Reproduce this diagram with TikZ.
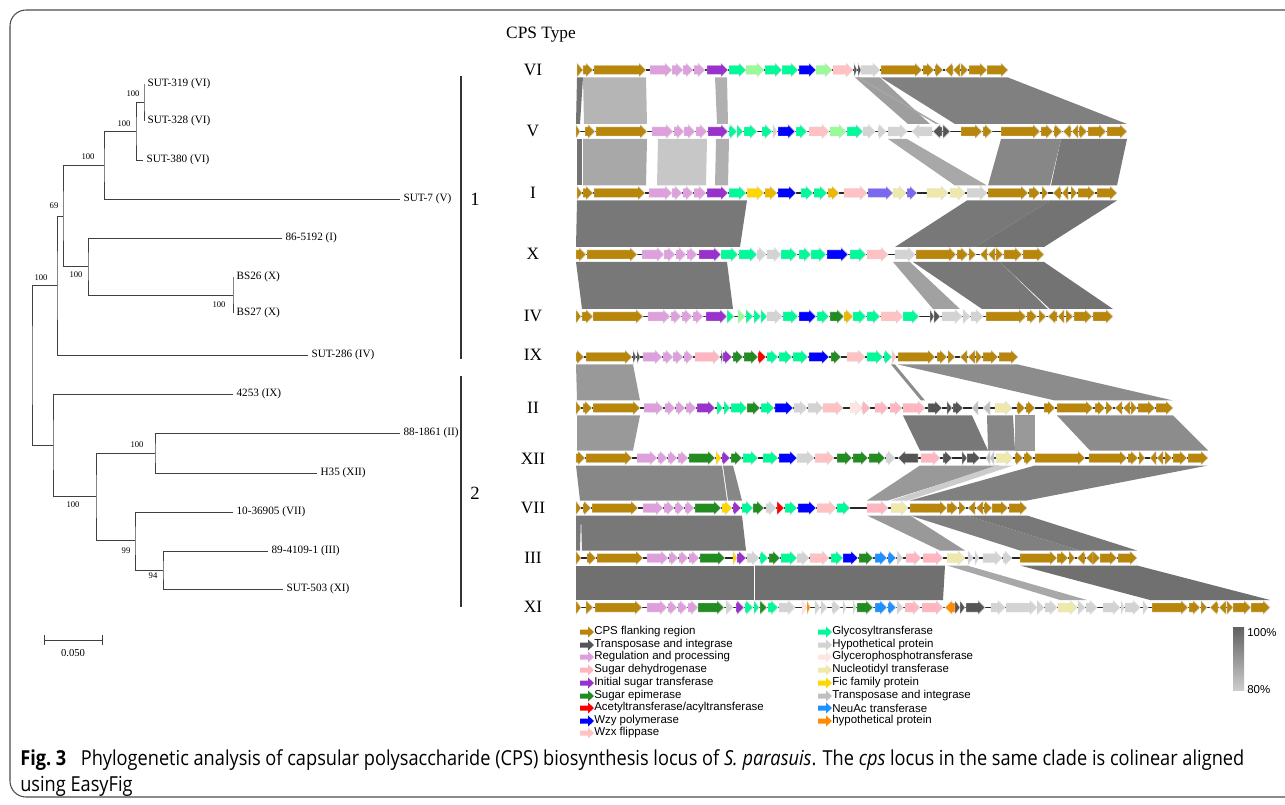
\documentclass[tikz,border=0pt]{standalone}
\usepackage{fontspec}
\setmainfont{Liberation Serif}
\setsansfont{Liberation Sans}
\newfontfamily\capfont{Open Sans}[FakeStretch=0.88]
\usepackage{xcolor}
\usepackage{tikz}
\usetikzlibrary{positioning}

% gene classes
\definecolor{gflank}{HTML}{B8860B}
\definecolor{gtrans}{HTML}{555555}
\definecolor{gregul}{HTML}{DDA0DD}
\definecolor{gsdh}{HTML}{FFB6C1}
\definecolor{gist}{HTML}{9932CC}
\definecolor{gsep}{HTML}{228B22}
\definecolor{gacyl}{HTML}{FF0000}
\definecolor{gwzy}{HTML}{0000FF}
\definecolor{gwzx}{HTML}{FFC1C1}
\definecolor{ggt}{HTML}{00FA9A}
\definecolor{ghyp}{HTML}{D3D3D3}
\definecolor{ggpt}{HTML}{FFE4E1}
\definecolor{gnuc}{HTML}{EEE8AA}
\definecolor{gfic}{HTML}{FFD700}
\definecolor{gtpi}{HTML}{C0C0C0}
\definecolor{gneuac}{HTML}{1E90FF}
\definecolor{ghypo}{HTML}{FF8C00}
\definecolor{gpgreen}{HTML}{98FB98}
\definecolor{gsblue}{HTML}{7B68EE}
\definecolor{gdgold}{HTML}{EBB800}

\tikzset{
    branch/.style={draw=black!75, line width=0.6pt},
    leaf/.style={anchor=west, inner xsep=2.5pt, inner ysep=0pt, font=\fontsize{8.4}{9}\selectfont},
    boot/.style={inner sep=0pt, font=\fontsize{6.5}{7}\selectfont},
    clade/.style={draw=black!80, line width=1pt},
    cladenum/.style={inner sep=0pt, font=\fontsize{14}{16}\selectfont},
    typelab/.style={inner sep=0pt, font=\fontsize{13}{15}\selectfont},
    genebody/.style={draw=black!12, line width=0.3pt},
    trackline/.style={draw=black!85, line width=0.8pt},
    keytext/.style={anchor=west, inner sep=0pt, font=\sffamily\fontsize{8.6}{9}\selectfont},
    captext/.style={anchor=west, inner sep=0pt, font=\capfont\fontsize{15.5}{18}\selectfont}
}

% one gene arrow: start, end, track y, colour
\newcommand{\cpsgene}[4]{%
    \pgfmathsetmacro{\glen}{#2-#1}%
    \pgfmathsetmacro{\ghead}{ifthenelse(\glen>0,1,-1)*min(7,abs(\glen))}%
    \filldraw[genebody, fill=#4] (#1,#3-4.5) -- ({#2-(\ghead)},#3-4.5) -- ({#2-(\ghead)},#3-7) -- (#2,#3)
        -- ({#2-(\ghead)},#3+7) -- ({#2-(\ghead)},#3+4.5) -- (#1,#3+4.5) -- cycle;}
% homology band: top y, bottom y, top x1, top x2, bottom x1, bottom x2, shade
\newcommand{\cpsband}[7]{%
    \fill[black!#7] (#3,#1) -- (#4,#1) -- (#6,#2) -- (#5,#2) -- cycle;}
% legend arrow
\newcommand{\keyarrow}[3]{%
    \fill[#3] (#1,#2-2.5) -- (#1+8,#2-2.5) -- (#1+8,#2-5.5) -- (#1+14,#2) -- (#1+8,#2+5.5) -- (#1+8,#2+2.5) -- (#1,#2+2.5) -- cycle;}

\begin{document}
\begin{tikzpicture}[x=0.75pt, y=-0.75pt]
    \useasboundingbox (0,0) rectangle (1285,805);
    \clip (0,0) rectangle (1285,805);
    \draw[black!70, line width=0.8pt, rounded corners=12] (1300,10) -- (10,10) -- (10,797) -- (1300,797);

    % Tree
    \node[leaf] (s319) at (144,84) {SUT-319 (VI)};
    \node[leaf] (s328) at (144,121) {SUT-328 (VI)};
    \node[leaf] (s380) at (143,160) {SUT-380 (VI)};
    \node[leaf] (s7) at (400,199) {SUT-7 (V)};
    \node[leaf] (k5192) at (282,238) {86-5192 (I)};
    \node[leaf] (bs26) at (233,277) {BS26 (X)};
    \node[leaf] (bs27) at (233,313) {BS27 (X)};
    \node[leaf] (s286) at (308,355) {SUT-286 (IV)};
    \node[leaf] (k4253) at (233,394) {4253 (IX)};
    \node[leaf] (k1861) at (400,433) {88-1861 (II)};
    \node[leaf] (h35) at (317,473) {H35 (XII)};
    \node[leaf] (k36905) at (233,512) {10-36905 (VII)};
    \node[leaf] (k4109) at (268,551) {89-4109-1 (III)};
    \node[leaf] (s503) at (283,589) {SUT-503 (XI)};

    \coordinate (a1) at (144,102);
    \coordinate (a2) at (136,131);
    \coordinate (a3) at (104,165);
    \coordinate (a4) at (63,216);
    \coordinate (b1) at (88,266);
    \coordinate (b2) at (233,295);
    \coordinate (c) at (57,285);
    \coordinate (root) at (32,365);
    \coordinate (d) at (53,445);
    \coordinate (e) at (96,496);
    \coordinate (f) at (155,453);
    \coordinate (g) at (135,540);
    \coordinate (h) at (163,570);

    \draw[branch] (s319.west) -| (a1) |- (s328.west);
    \draw[branch] (a1) -| (a2) |- (s380.west);
    \draw[branch] (a2) -| (a3) |- (s7.west);
    \draw[branch] (a3) -| (a4) |- (b1);
    \draw[branch] (k5192.west) -| (b1) |- (b2);
    \draw[branch] (bs26.west) -| (b2) |- (bs27.west);
    \draw[branch] (a4) -| (c) |- (s286.west);
    \draw[branch] (c) -| (root) |- (d);
    \draw[branch] (k4253.west) -| (d) |- (e);
    \draw[branch] (f) -| (e) |- (g);
    \draw[branch] (k1861.west) -| (f) |- (h35.west);
    \draw[branch] (k36905.west) -| (g) |- (h);
    \draw[branch] (k4109.west) -| (h) |- (s503.west);

    % bootstrap values
    \node[boot] (bt1) at (133,94) {100};
    \node[boot] (bt2) at (124,124) {100};
    \node[boot] (bt3) at (88,157) {100};
    \node[boot] (bt4) at (54,206) {69};
    \node[boot] (bt5) at (76,275) {100};
    \node[boot] (bt6) at (219,305) {100};
    \node[boot] (bt7) at (41,278) {100};
    \node[boot] (bt8) at (137,445) {100};
    \node[boot] (bt9) at (73,505) {100};
    \node[boot] (bt10) at (126,551) {99};
    \node[boot] (bt11) at (153,576) {94};

    % clades and scale
    \draw[clade] (461,76) -- (461,359);
    \node[cladenum] (cl1) at (475,199) {1};
    \draw[clade] (461,376) -- (461,607);
    \node[cladenum] (cl2) at (475,493) {2};
    \draw[branch] (44,635) -- (44,645) (44,640) -- (102,640) (102,635) -- (102,645);
    \node[boot, font=\fontsize{8}{9}\selectfont] (sc) at (73,653) {0.050};

    % CPS types
    \node[typelab] (cpst) at (541,35) {CPS Type};
    \foreach \t/\y in {VI/70, V/131, I/193, X/254, IV/316, IX/355, II/408, XII/459, VII/508, III/558, XI/607}
        \node[typelab] (t\t) at (533,\y) {\t};

    % homology bands
    \foreach \p/\q/\r/\s/\v in {577/583/576/580/55, 583/646/584/647/29, 715/727/717/728/31, 855/880/908/930/38, 857/860/936/939/35, 881/1008/955/1127/50}
        \cpsband{77.5}{124}{\p}{\q}{\r}{\s}{\v};
    \foreach \p/\q/\r/\s/\v in {577/582/577/582/55, 583/647/583/646/34, 658/707/657/706/22, 716/729/715/728/31, 888/907/955/987/34, 1001/1061/988/1050/47, 1061/1127/1051/1117/53}
        \cpsband{139}{185.5}{\p}{\q}{\r}{\s}{\v};
    \foreach \p/\q/\r/\s/\v in {577/747/576/740/53, 967/1050/895/975/53, 1050/1117/975/1044/55}
        \cpsband{200.5}{247}{\p}{\q}{\r}{\s}{\v};
    \foreach \p/\q/\r/\s/\v in {576/727/582/733/53, 893/910/933/960/37, 913/1000/982/1048/53, 1000/1044/1050/1113/55}
        \cpsband{262}{309}{\p}{\q}{\r}{\s}{\v};
    \foreach \p/\q/\r/\s/\v in {576/633/577/640/40, 891/895/921/925/45, 898/1018/1055/1173/45}
        \cpsband{364.5}{400.5}{\p}{\q}{\r}{\s}{\v};
    \foreach \p/\q/\r/\s/\v in {577/640/577/633/40, 903/972/920/988/53, 987/1013/988/1015/47, 1015/1035/1015/1035/40, 1057/1173/1090/1208/45}
        \cpsband{415.5}{450.5}{\p}{\q}{\r}{\s}{\v};
    \foreach \p/\q/\r/\s/\v in {576/722/580/727/47, 723/733/728/742/47, 920/1000/867/888/40, 996/1013/891/908/20, 1035/1208/910/1027/50}
        \cpsband{465.5}{500.5}{\p}{\q}{\r}{\s}{\v};
    \foreach \p/\q/\r/\s/\v in {576/581/576/580/53, 581/742/582/746/53, 867/910/940/965/40, 910/967/1020/1080/50, 967/1027/1080/1137/53}
        \cpsband{515.5}{550.5}{\p}{\q}{\r}{\s}{\v};
    \foreach \p/\q/\r/\s/\v in {576/754/576/754/56, 755/945/755/943/56, 947/967/1060/1087/34, 1020/1137/1150/1270/56}
        \cpsband{565.5}{600}{\p}{\q}{\r}{\s}{\v};

    % VI
    \draw[trackline] (577,70) -- (1008,70);
    \foreach \a/\b/\c in {577/583/gflank, 583/593/gflank, 594/646/gflank, 650/672/gregul, 672/683/gregul, 683/693/gregul, 694/705/gregul, 707/728/gist, 729/746/ggt, 746/764/gpgreen, 765/782/ggt, 782/798/ggt, 799/816/gwzy, 816/832/gpgreen, 833/853/gwzx, 854/857/gtrans, 858/861/gtrans, 861/880/ghyp, 881/922/gflank, 923/934/gflank, 935/943/gflank, 953/945/gflank, 960/953/gflank, 961/968/gflank, 969/987/gflank, 987/1008/gflank}
        {\cpsgene{\a}{\b}{70}{\c}}
    % V
    \draw[trackline] (576,131.5) -- (1127,131.5);
    \foreach \a/\b/\c in {576/580/gflank, 585/595/gflank, 596/647/gflank, 652/673/gregul, 674/684/gregul, 684/695/gregul, 696/707/gregul, 708/728/gist, 729/737/ggt, 737/743/ggt, 744/757/ggt, 762/772/ggt, 773/777/ghyp, 778/795/gwzy, 796/807/ggt, 809/829/gwzx, 830/846/gpgreen, 847/863/ggt, 863/875/ghyp, 878/886/ghyp, 888/907/ghyp, 932/912/ghyp, 942/933/gtrans, 943/950/gtrans, 961/982/gflank, 983/992/gflank, 1001/1040/gflank, 1041/1053/gflank, 1054/1062/gflank, 1071/1063/gflank, 1078/1072/gflank, 1079/1087/gflank, 1088/1106/gflank, 1107/1127/gflank}
        {\cpsgene{\a}{\b}{131.5}{\c}}
    % I
    \draw[trackline] (577,193) -- (1117,193);
    \foreach \a/\b/\c in {577/582/gflank, 583/593/gflank, 594/645/gflank, 649/672/gregul, 672/682/gregul, 683/693/gregul, 694/706/gregul, 707/728/gist, 729/746/ggt, 747/764/gfic, 765/777/gdgold, 778/796/gwzy, 801/813/ggt, 814/827/ggt, 828/839/gdgold, 844/867/gwzx, 868/893/gsblue, 893/906/gnuc, 907/917/gsblue, 927/948/gnuc, 950/965/gnuc, 967/987/ghyp, 988/1028/gflank, 1029/1040/gflank, 1042/1048/gflank, 1061/1053/gflank, 1068/1062/gflank, 1071/1077/gflank, 1078/1095/gflank, 1097/1117/gflank}
        {\cpsgene{\a}{\b}{193}{\c}}
    % X
    \draw[trackline] (576,254.5) -- (1044,254.5);
    \foreach \a/\b/\c in {576/586/gflank, 587/637/gflank, 642/664/gregul, 664/675/gregul, 676/686/gregul, 687/697/gregul, 699/721/gist, 721/738/ggt, 739/757/ggt, 757/766/ghyp, 767/781/ghyp, 781/797/ggt, 799/811/ggt, 811/826/ggt, 827/848/gwzy, 850/866/ggt, 867/888/gwzx, 895/915/ghyp, 916/956/gflank, 957/968/gflank, 969/976/gflank, 987/980/gflank, 995/988/gflank, 996/1003/gflank, 1004/1022/gflank, 1023/1044/gflank}
        {\cpsgene{\a}{\b}{254.5}{\c}}
    % IV
    \draw[trackline] (576,316.5) -- (1113,316.5);
    \foreach \a/\b/\c in {576/581/gflank, 582/593/gflank, 593/643/gflank, 648/670/gregul, 671/681/gregul, 682/692/gregul, 693/703/gregul, 706/727/gist, 727/734/ggt, 738/745/gpgreen, 746/753/ggt, 754/761/ggt, 761/767/ggt, 767/782/ghyp, 783/798/ggt, 799/816/gwzy, 817/829/ggt, 830/844/gsep, 844/853/gdgold, 853/866/ggt, 867/880/ggt, 881/903/gwzx, 903/919/ggt, 930/934/gtrans, 934/940/gtrans, 942/962/ghyp, 963/970/ghyp, 971/983/ghyp, 986/1026/gflank, 1027/1037/gflank, 1039/1046/gflank, 1057/1048/gflank, 1064/1058/gflank, 1066/1073/gflank, 1074/1092/gflank, 1093/1113/gflank}
        {\cpsgene{\a}{\b}{316.5}{\c}}
    % IX
    \draw[trackline] (576,357) -- (1018,357);
    \foreach \a/\b/\c in {576/584/gflank, 586/632/gflank, 633/636/gtrans, 637/640/gtrans, 643/662/gregul, 663/673/gregul, 673/683/gregul, 684/693/gregul, 695/720/gsdh, 721/723/gtrans, 723/732/gist, 733/743/gsep, 744/758/gsep, 758/766/gacyl, 767/778/ggt, 779/792/ggt, 793/808/ggt, 809/829/gwzy, 831/841/gsep, 847/865/gwzx, 867/883/ggt, 884/892/ggt, 892/896/gwzx, 898/935/gflank, 937/947/gflank, 948/955/gflank, 967/960/gflank, 975/968/gflank, 976/982/gflank, 983/998/gflank, 999/1018/gflank}
        {\cpsgene{\a}{\b}{357}{\c}}
    % II
    \draw[trackline] (576,408) -- (1173,408);
    \foreach \a/\b/\c in {576/581/gflank, 583/592/gflank, 593/640/gflank, 644/663/gregul, 665/675/gregul, 676/685/gregul, 686/696/gregul, 697/715/gist, 717/723/ggt, 724/730/ggt, 731/747/ggt, 747/760/gsep, 761/774/ggt, 775/793/gwzy, 794/807/ghyp, 808/823/ghyp, 823/843/gwzx, 850/862/ggpt, 862/870/gsdh, 875/888/gsdh, 890/902/gsdh, 903/925/gsdh, 928/942/gtrans, 947/952/gtrans, 953/963/gtrans, 978/972/gtpi, 990/983/gtpi, 995/1012/gnuc, 1017/1025/gflank, 1026/1035/gflank, 1044/1055/gflank, 1057/1093/gflank, 1095/1105/gflank, 1106/1113/gflank, 1122/1115/gflank, 1130/1123/gflank, 1131/1137/gflank, 1138/1155/gflank, 1156/1173/gflank}
        {\cpsgene{\a}{\b}{408}{\c}}
    % XII
    \draw[trackline] (576,458) -- (1208,458);
    \foreach \a/\b/\c in {576/585/gflank, 586/632/gflank, 637/657/gregul, 658/667/gregul, 668/677/gregul, 678/688/gregul, 689/715/gsep, 716/721/gfic, 722/730/gist, 731/742/gsep, 743/758/ggt, 763/778/ggt, 779/797/gwzy, 797/814/ghyp, 815/834/gwzx, 837/852/gsep, 853/868/gsep, 869/885/gsep, 886/895/ghyp, 918/898/gtrans, 921/940/gsdh, 943/952/gtrans, 962/967/gtrans, 967/980/gtrans, 990/986/gtpi, 994/990/gtpi, 996/1013/gnuc, 1015/1023/gflank, 1024/1033/gflank, 1035/1085/gflank, 1089/1127/gflank, 1128/1138/gflank, 1139/1145/gflank, 1156/1150/gflank, 1163/1157/gflank, 1165/1172/gflank, 1173/1187/gflank, 1188/1208/gflank}
        {\cpsgene{\a}{\b}{458}{\c}}
    % VII
    \draw[trackline] (576,508) -- (1027,508);
    \foreach \a/\b/\c in {576/581/gflank, 583/591/gflank, 592/638/gflank, 643/663/gregul, 664/674/gregul, 675/684/gregul, 685/694/gregul, 695/721/gsep, 722/732/gfic, 733/741/gist, 742/753/ggt, 753/764/gsep, 766/776/ghyp, 777/784/gacyl, 785/797/ggt, 798/816/gwzy, 817/836/gwzx, 837/850/ggt, 867/888/gsdh, 891/908/gnuc, 910/947/gflank, 947/958/gflank, 959/966/gflank, 975/968/gflank, 983/976/gflank, 984/992/gflank, 992/1008/gflank, 1009/1027/gflank}
        {\cpsgene{\a}{\b}{508}{\c}}
    % III
    \draw[trackline] (576,558) -- (1137,558);
    \foreach \a/\b/\c in {576/581/gflank, 587/596/gflank, 597/643/gflank, 647/668/gregul, 669/678/gregul, 679/688/gregul, 689/699/gregul, 700/725/gsep, 733/737/gfic, 737/746/gist, 747/759/ghyp, 760/768/ggt, 769/780/gsep, 781/797/ggt, 797/809/ghyp, 810/829/gwzx, 831/843/ggt, 843/858/gwzy, 859/873/gsep, 875/887/gneuac, 888/896/gneuac, 897/903/ghyp, 906/921/gsdh, 923/943/gsdh, 947/965/gnuc, 968/973/ghyp, 975/979/ghyp, 983/1002/ghyp, 1003/1012/ghyp, 1020/1057/gflank, 1057/1068/gflank, 1069/1075/gflank, 1085/1077/gflank, 1093/1086/gflank, 1093/1100/gflank, 1100/1117/gflank, 1118/1137/gflank}
        {\cpsgene{\a}{\b}{558}{\c}}
    % XI
    \draw[trackline] (576,607.5) -- (1270,607.5);
    \foreach \a/\b/\c in {576/581/gflank, 586/593/gflank, 595/642/gflank, 647/667/gregul, 668/677/gregul, 678/687/gregul, 688/698/gregul, 698/724/gsep, 726/733/ghyp, 736/744/gist, 745/753/ggt, 754/759/ggt, 760/767/gsep, 768/778/ggt, 779/795/ghyp, 802/807/ggpt, 807/810/ghypo, 815/820/ghyp, 821/827/ghyp, 832/840/ghyp, 843/846/ghyp, 853/856/ghyp, 857/873/gsep, 875/887/gneuac, 888/896/gneuac, 897/903/ghyp, 905/920/gsdh, 922/943/gsdh, 955/945/ghypo, 955/960/gtrans, 960/965/gtrans, 966/985/gtrans, 991/1005/ghyp, 1006/1037/ghyp, 1037/1044/ghyp, 1045/1057/ghyp, 1058/1077/gnuc, 1078/1085/ghyp, 1086/1097/ghyp, 1103/1120/ghyp, 1121/1124/ghyp, 1125/1140/ghyp, 1143/1148/ghyp, 1152/1188/gflank, 1189/1200/gflank, 1201/1207/gflank, 1218/1210/gflank, 1226/1219/gflank, 1227/1233/gflank, 1233/1251/gflank, 1251/1270/gflank}
        {\cpsgene{\a}{\b}{607.5}{\c}}

    % Legend
    \foreach \n/\y/\c/\txt in {lflank/632/gflank/CPS flanking region, ltrans/645/gtrans/Transposase and integrase, lregul/657/gregul/Regulation and processing, lsdh/670/gsdh/Sugar dehydrogenase, list/683/gist/Initial sugar transferase, lsep/696/gsep/Sugar epimerase, lacyl/708/gacyl/Acetyltransferase\slash acyltransferase, lwzy/721/gwzy/Wzy polymerase, lwzx/733/gwzx/Wzx flippase}
        {\keyarrow{580}{\y}{\c}
         \node[keytext] (\n) at (594,\y) {\txt};}
    \foreach \n/\y/\c/\txt in {lgt/632/ggt/Glycosyltransferase, lhyp/645/ghyp/Hypothetical protein, lgpt/657/ggpt/Glycerophosphotransferase, lnuc/670/gnuc/Nucleotidyl transferase, lfic/683/gfic/Fic family protein, ltpi/696/gtpi/Transposase and integrase, lneuac/708/gneuac/NeuAc transferase, lhypo/721/ghypo/hypothetical protein}
        {\keyarrow{818}{\y}{\c}
         \node[keytext] (\n) at (832,\y) {\txt};}

    % identity scale
    \shade[top color=black!62, bottom color=black!20] (1233,627) rectangle (1244,690);
    \node[keytext] (id100) at (1247,633) {100\%};
    \node[keytext] (id80) at (1247,690) {80\%};

    % Caption
    \node[captext] (cap1) at (20,760) {\textbf{Fig.~3}\hspace{0.7em}Phylogenetic analysis of capsular polysaccharide (CPS) biosynthesis locus of \textit{S. parasuis}. The \textit{cps} locus in the same clade is colinear aligned};
    \node[captext] (cap2) at (20,786) {using EasyFig};
\end{tikzpicture}
\end{document}
